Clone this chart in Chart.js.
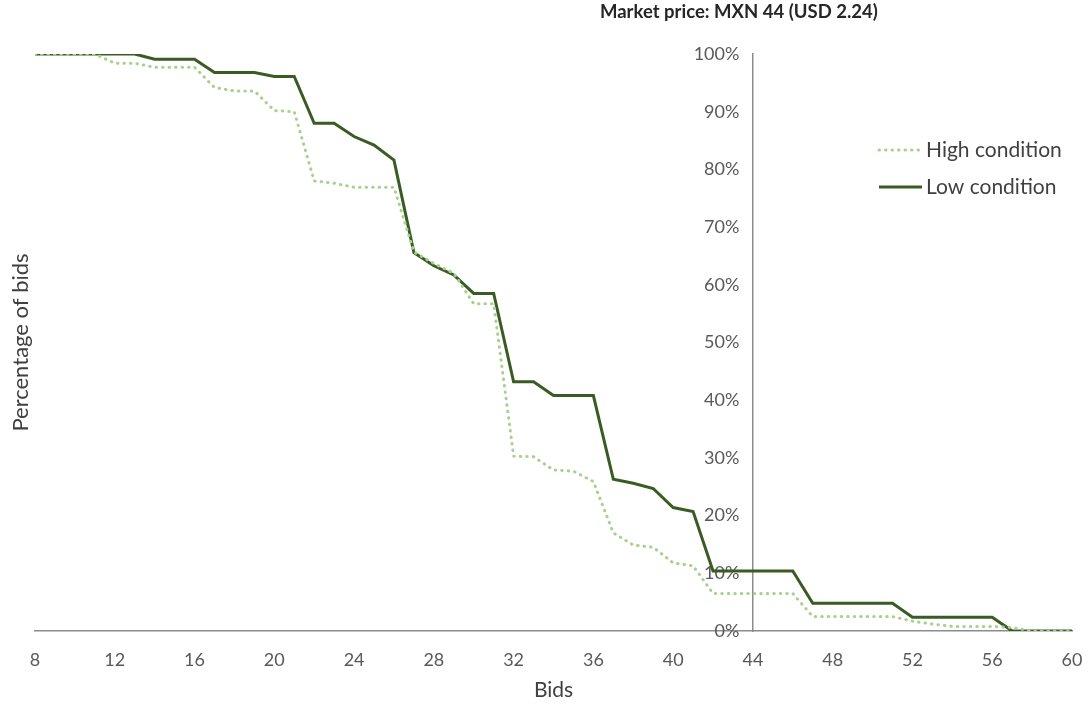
<!DOCTYPE html>
<html>
<head>
<meta charset="utf-8">
<script src="https://cdn.jsdelivr.net/npm/chart.js@4.4.1/dist/chart.umd.min.js"></script>
<style>
  html, body { margin: 0; padding: 0; background: #fff; }
  #wrap { width: 1089px; height: 706px; }
</style>
</head>
<body>
<div id="wrap"><canvas id="bidsChart" width="1089" height="706"></canvas></div>
<script>
// bids (MXN) on the x axis
const bids = [8, 9, 10, 11, 12, 13, 14, 15, 16, 17, 18, 19, 20, 21, 22, 23, 24, 25, 26, 27, 28, 29, 30,
  31, 32, 33, 34, 35, 36, 37, 38, 39, 40, 41, 42, 43, 44, 45, 46, 47, 48, 49, 50, 51, 52, 53, 54, 55, 56,
  57, 58, 59, 60];

// percentage of bids at or above each price
const highCondition = [100, 100, 100, 100, 98.4, 98.4, 97.7, 97.7, 97.7, 94.2, 93.6, 93.6, 90.2, 90.0,
  78.0, 77.6, 76.9, 76.9, 76.9, 65.7, 63.7, 62.0, 56.7, 56.7, 30.3, 30.2, 27.9, 27.7, 25.9, 17.0, 14.9,
  14.5, 11.8, 11.3, 6.5, 6.5, 6.5, 6.5, 6.5, 2.5, 2.5, 2.5, 2.5, 2.5, 1.7, 1.2, 0.8, 0.8, 0.8, 0.6,
  0, 0, 0];
const lowCondition = [100, 100, 100, 100, 100, 100, 99.1, 99.1, 99.1, 96.8, 96.8, 96.8, 96.1, 96.1,
  88.0, 88.0, 85.7, 84.2, 81.6, 65.6, 63.3, 61.7, 58.5, 58.5, 43.2, 43.2, 40.8, 40.8, 40.8, 26.3, 25.6,
  24.7, 21.4, 20.7, 10.4, 10.4, 10.4, 10.4, 10.4, 4.8, 4.8, 4.8, 4.8, 4.8, 2.4, 2.4, 2.4, 2.4, 2.4, 0,
  0, 0, 0];

const marketPrice = 44;
const titleText = "Market price: MXN 44 (USD 2.24)";

const FONT = "Lato, 'Open Sans', sans-serif";
const GREY = "#595959";
const AXIS = "#8c8c8c";

function points(ys) {
  return bids.map((b, i) => ({ x: b, y: ys[i] }));
}

// title above the market-price axis + legend inside the plot
const extras = {
  id: "extras",
  afterDraw(chart) {
    const ctx = chart.ctx;
    const xs = chart.scales.x;
    ctx.save();
    ctx.fillStyle = "#262626";
    ctx.font = "bold 18.5px " + FONT;
    ctx.textAlign = "center";
    ctx.textBaseline = "middle";
    ctx.fillText(titleText, xs.getPixelForValue(marketPrice) - 14, 12);

    const rows = [150, 187];
    chart.data.datasets.forEach((ds, i) => {
      const y = rows[i];
      ctx.beginPath();
      ctx.strokeStyle = ds.borderColor;
      ctx.lineWidth = ds.borderWidth;
      ctx.lineCap = ds.borderCapStyle || "butt";
      ctx.setLineDash(ds.borderDash || []);
      ctx.moveTo(879, y);
      ctx.lineTo(922, y);
      ctx.stroke();
      ctx.setLineDash([]);
      ctx.fillStyle = "#404040";
      ctx.font = "21px " + FONT;
      ctx.textAlign = "left";
      ctx.fillText(ds.label, 926, y);
    });
    ctx.restore();
  }
};

new Chart(document.getElementById("bidsChart"), {
  type: "line",
  data: {
    datasets: [
      {
        label: "High condition",
        data: points(highCondition),
        borderColor: "#a9d18e",
        borderWidth: 3,
        borderDash: [0.5, 6],
        borderCapStyle: "round",
        pointRadius: 0,
        tension: 0,
        yAxisID: "y"
      },
      {
        label: "Low condition",
        data: points(lowCondition),
        borderColor: "#3b5b25",
        borderWidth: 3,
        pointRadius: 0,
        tension: 0,
        yAxisID: "y"
      }
    ]
  },
  plugins: [extras],
  options: {
    responsive: false,
    animation: false,
    layout: { padding: { top: 54, right: 17, bottom: 0, left: 0 } },
    plugins: {
      legend: { display: false },
      tooltip: { enabled: false },
      title: { display: false }
    },
    scales: {
      x: {
        type: "linear",
        min: 8,
        max: 60,
        afterFit: s => { s.paddingRight = 0; },
        grid: { display: true, drawOnChartArea: false, drawTicks: false },
        border: { display: true, color: AXIS, width: 1.5 },
        ticks: {
          stepSize: 4,
          padding: 18,
          color: GREY,
          font: { family: FONT, size: 18 }
        },
        title: {
          display: true,
          text: "Bids",
          color: "#404040",
          font: { family: FONT, size: 21 },
          padding: { top: -11.2, bottom: 3.4 }
        }
      },
      y: {
        type: "linear",
        position: { x: marketPrice },
        min: 0,
        max: 100,
        grid: { display: true, drawOnChartArea: false, drawTicks: false },
        border: { display: true, color: AXIS, width: 1.5 },
        ticks: {
          stepSize: 10,
          color: GREY,
          font: { family: FONT, size: 18 },
          callback: v => v + "%\u2003"
        }
      },
      yTitle: {
        type: "linear",
        position: "left",
        min: 0,
        max: 100,
        grid: { display: false, drawTicks: false },
        border: { display: false },
        ticks: { display: false },
        title: {
          display: true,
          text: "Percentage of bids",
          color: "#404040",
          font: { family: FONT, size: 22 },
          padding: { top: 8, bottom: 0.6 }
        }
      }
    }
  }
});
</script>
</body>
</html>
